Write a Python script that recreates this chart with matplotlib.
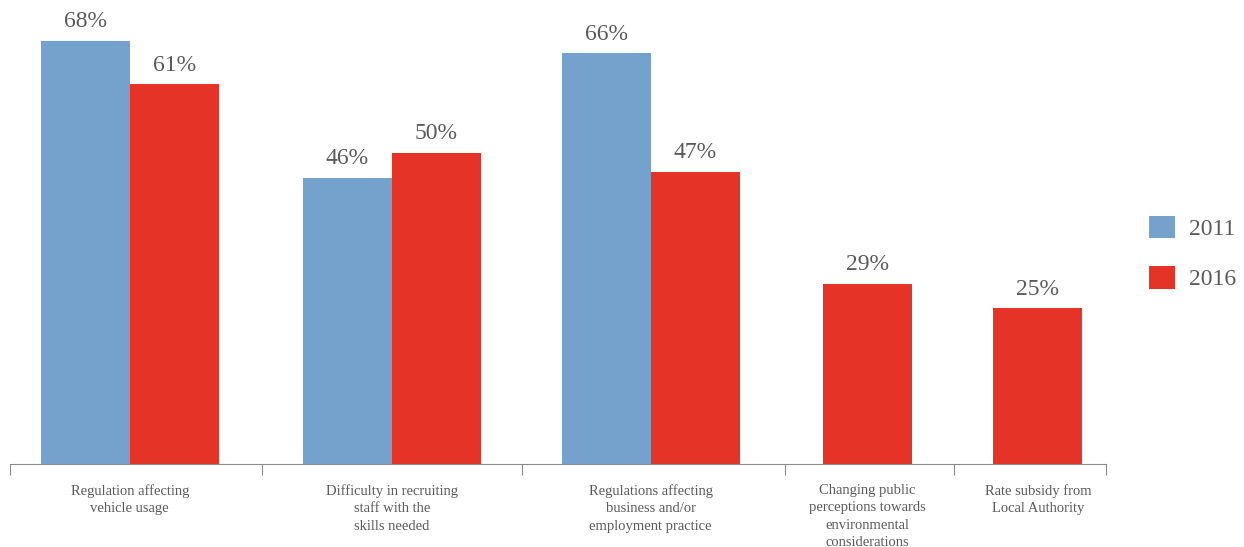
import matplotlib.pyplot as plt
import numpy as np

categories = [
    "Regulation affecting\nvehicle usage",
    "Difficulty in recruiting\nstaff with the\nskills needed",
    "Regulations affecting\nbusiness and/or\nemployment practice",
    "Changing public\nperceptions towards\nenvironmental\nconsiderations",
    "Rate subsidy from\nLocal Authority",
]
years = ["2011", "2016"]
values_2011 = [68, 46, 66, None, None]
values_2016 = [61, 50, 47, 29, 25]

# group boundaries along x, in bar widths
edges = np.array([0, 2.83, 5.75, 8.70, 10.60, 12.31])
centers = (edges[:-1] + edges[1:]) / 2
centers[0] -= 0.07
centers[2] -= 0.03
centers[3] -= 0.02
centers[-1] += 0.09

blue = "#75a2cd"
red = "#e63328"
txt = "#5a5a5a"
plt.rcParams['font.family'] = ['Liberation Serif', 'DejaVu Serif']

fig = plt.figure(figsize=(12.44, 5.47), dpi=100)
ax = fig.add_axes([10 / 1244, 83 / 547, 1096 / 1244, 448 / 547])

h = {}
off = 1.4
for i, c in enumerate(centers):
    v1, v2 = values_2011[i], values_2016[i]
    if v1 is not None:
        h["2011"] = ax.bar(c - 0.5, v1, width=1.0, color=blue)
        ax.text(c - 0.5, v1 + off, f"{v1}%", ha="center", va="bottom", fontsize=17, color=txt)
        h["2016"] = ax.bar(c + 0.5, v2, width=1.0, color=red)
        ax.text(c + 0.5, v2 + off, f"{v2}%", ha="center", va="bottom", fontsize=17, color=txt)
    else:
        ax.bar(c, v2, width=1.0, color=red)
        ax.text(c, v2 + off, f"{v2}%", ha="center", va="bottom", fontsize=17, color=txt)

ax.set_xlim(edges[0], edges[-1])
ax.set_ylim(0, 72)
for s in ["top", "right", "left"]:
    ax.spines[s].set_visible(False)
ax.spines["bottom"].set_color("#8a8a8a")
ax.set_yticks([])
ax.set_xticks(edges)
ax.set_xticklabels([])
ax.tick_params(axis="x", length=8, color="#8a8a8a", direction="out")
for c, lab in zip(centers, categories):
    ax.text(c, -3.2, lab, ha="center", va="top", fontsize=10.5, color=txt,
            linespacing=1.45)

fig.legend([h["2011"], h["2016"]], years, loc="center left",
           bbox_to_anchor=(1128 / 1244, 1 - 253 / 547), frameon=False,
           fontsize=17, handlelength=1.1, handleheight=1.1,
           labelspacing=1.1, handletextpad=0.6, labelcolor=txt)

fig.savefig("out.png", dpi=100)
